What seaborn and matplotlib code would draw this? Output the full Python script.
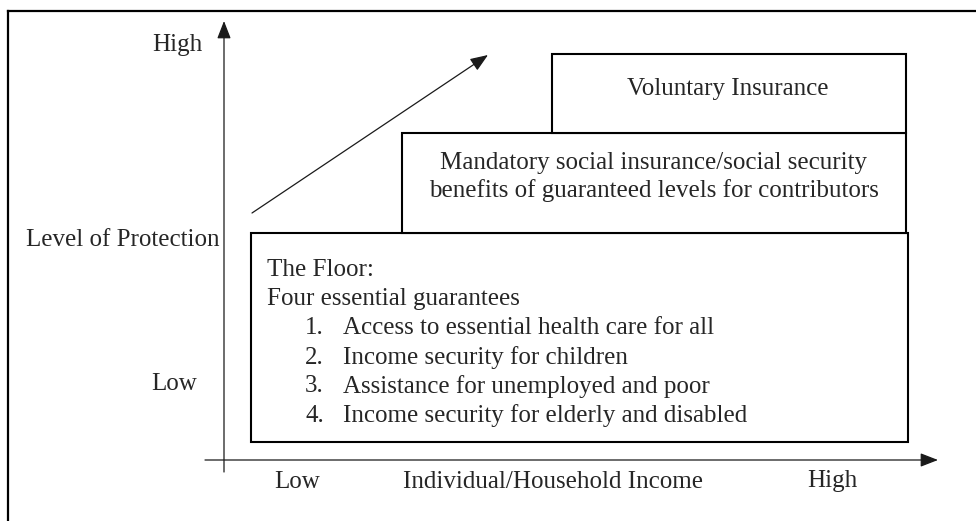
import matplotlib.pyplot as plt
import seaborn as sns
from matplotlib.patches import Rectangle

# layer boxes: (left, right, top, bottom) in pixel-like diagram units
layer_names = ["floor", "mandatory", "voluntary"]
layer_left = [251, 402, 552]
layer_right = [908, 906, 906]
layer_top = [233, 133, 54]
layer_bottom = [442, 233, 133]

floor_title = ["The Floor:", "Four essential guarantees"]
floor_items = [
    "Access to essential health care for all",
    "Income security for children",
    "Assistance for unemployed and poor",
    "Income security for elderly and disabled",
]
mandatory_text = "Mandatory social insurance/social security\nbenefits of guaranteed levels for contributors"
voluntary_text = "Voluntary Insurance"

y_axis_labels = ["High", "Level of Protection", "Low"]
y_axis_label_pos = [43, 237, 382]
x_axis_labels = ["Low", "Individual/Household Income", "High"]
x_axis_label_pos = [297, 553, 832]

W, H = 976, 521

sns.set_theme(style="white")
plt.rcParams["font.family"] = ["Liberation Serif", "DejaVu Serif"]

fig = plt.figure(figsize=(W / 100, H / 100), dpi=100)
ax = fig.add_axes([0, 0, 1, 1])
ax.set_xlim(0, W)
ax.set_ylim(H, 0)
ax.axis("off")

FS = 18
VA = "center_baseline"

# outer frame (cropped on right and bottom)
ax.plot([8, 8], [H, 10.5], color="black", lw=1.6, solid_capstyle="projecting")
ax.plot([8, W], [10.5, 10.5], color="black", lw=1.6, solid_capstyle="projecting")

# axes arrows
arrow_kw = dict(arrowstyle="-|>,head_length=0.9,head_width=0.35", color="#1a1a1a", lw=0.9,
                shrinkA=0, shrinkB=0)
ax.annotate("", xy=(224, 21), xytext=(224, 472), arrowprops=arrow_kw)
ax.annotate("", xy=(938, 460), xytext=(205, 460), arrowprops=arrow_kw)
ax.annotate("", xy=(488, 55), xytext=(252, 213), arrowprops=arrow_kw)

# layer boxes
for name, l, r, t, b in zip(layer_names, layer_left, layer_right, layer_top, layer_bottom):
    ax.add_patch(Rectangle((l, t), r - l, b - t, facecolor="white", edgecolor="black", lw=1.5,
                           zorder=2 if name == "floor" else 3))

# box texts
ax.text(728, 86, voluntary_text, ha="center", va=VA, fontsize=FS, zorder=4)
ax.text(654, 177, mandatory_text, ha="center", va="center", fontsize=FS, linespacing=1.3, zorder=4)

ax.text(267, 268, floor_title[0], ha="left", va=VA, fontsize=FS, zorder=4)
ax.text(267, 297, floor_title[1], ha="left", va=VA, fontsize=FS, zorder=4)
for i, item in enumerate(floor_items):
    y = 326 + i * 29
    ax.text(305, y, f"{i + 1}.", ha="left", va=VA, fontsize=FS, zorder=4)
    ax.text(343, y, item, ha="left", va=VA, fontsize=FS, zorder=4)

# axis labels
ax.text(202, y_axis_label_pos[0], y_axis_labels[0], ha="right", va=VA, fontsize=FS)
ax.text(220, y_axis_label_pos[1], y_axis_labels[1], ha="right", va=VA, fontsize=FS)
ax.text(197, y_axis_label_pos[2], y_axis_labels[2], ha="right", va=VA, fontsize=FS)
for lab, x in zip(x_axis_labels, x_axis_label_pos):
    ax.text(x, 479, lab, ha="center", va=VA, fontsize=FS)

fig.savefig("out.png", dpi=100, facecolor="white")
